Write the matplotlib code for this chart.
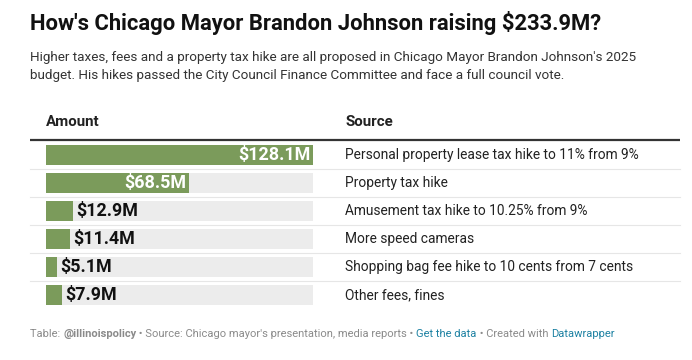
import matplotlib
matplotlib.use("Agg")
import matplotlib.pyplot as plt

plt.rcParams["font.family"] = ["Roboto", "DejaVu Sans"]

TITLE = "How's Chicago Mayor Brandon Johnson raising $233.9M?"
SUBTITLE = [
    "Higher taxes, fees and a property tax hike are all proposed in Chicago Mayor Brandon Johnson's 2025",
    "budget. His hikes passed the City Council Finance Committee and face a full council vote.",
]
amounts = [128.1, 68.5, 12.9, 11.4, 5.1, 7.9]
sources = [
    "Personal property lease tax hike to 11% from 9%",
    "Property tax hike",
    "Amusement tax hike to 10.25% from 9%",
    "More speed cameras",
    "Shopping bag fee hike to 10 cents from 7 cents",
    "Other fees, fines",
]
footer = [
    ("Table: ", "normal", "#8a8a8a"),
    ("@illinoispolicy", "bold", "#8a8a8a"),
    (" \u2022 Source: Chicago mayor's presentation, media reports \u2022 ", "normal", "#8a8a8a"),
    ("Get the data", "normal", "#1d81a2"),
    (" \u2022 Created with ", "normal", "#8a8a8a"),
    ("Datawrapper", "normal", "#1d81a2"),
]

W, H = 692, 360
GREEN = "#7b9b5b"
TRACK = "#ececec"

fig = plt.figure(figsize=(W / 100, H / 100), dpi=100)
fig.patch.set_facecolor("white")

# pixel-space canvas for text and rules
bg = fig.add_axes([0, 0, 1, 1])
bg.set_xlim(0, W)
bg.set_ylim(H, 0)
bg.axis("off")

bg.text(30, 23, TITLE, fontsize=15.8, fontweight="bold", color="#111111", va="center")
for i, line in enumerate(SUBTITLE):
    bg.text(30, 57 + 18 * i, line, fontsize=9.7, color="#333333", va="center")

bg.text(46, 122, "Amount", fontsize=10.9, fontweight="bold", color="#222222", va="center")
bg.text(345, 122, "Source", fontsize=10.9, fontweight="bold", color="#222222", va="center")
bg.plot([30, 680], [139.5, 139.5], color="#333333", lw=1.6, solid_capstyle="butt")

top, row_h = 141, 28
n = len(amounts)
for i in range(1, n):
    y = top + i * row_h
    bg.plot([30, 680], [y, y], color="#e6e6e6", lw=0.8)
for i, s in enumerate(sources):
    bg.text(345, top + (i + 0.5) * row_h, s, fontsize=9.9, color="#222222", va="center")

# bar axes
ax = fig.add_axes([46 / W, (H - (top + n * row_h)) / H, 267 / W, n * row_h / H])
vmax = max(amounts)
ax.set_xlim(0, vmax)
ax.set_ylim(n, 0)
ax.axis("off")
ypos = [i + 0.5 for i in range(n)]
ax.barh(ypos, [vmax] * n, height=20 / row_h, color=TRACK, linewidth=0)
ax.barh(ypos, amounts, height=20 / row_h, color=GREEN, linewidth=0)
for y, v in zip(ypos, amounts):
    label = f"${v:.1f}M"
    if v > vmax * 0.3:
        ax.text(v - vmax * 0.01, y, label, color="white", fontsize=12.9,
                fontweight="bold", ha="right", va="center")
    else:
        ax.text(v + vmax * 0.012, y, label, color="#111111", fontsize=12.9,
                fontweight="bold", ha="left", va="center")

# footer with mixed styles
fig.canvas.draw()
renderer = fig.canvas.get_renderer()
x = 30
for txt, weight, col in footer:
    t = bg.text(x, 334, txt, fontsize=8.0, fontweight=weight, color=col, va="center")
    bb = t.get_window_extent(renderer=renderer)
    x += bb.width

fig.savefig("out.png", dpi=100, facecolor="white")
